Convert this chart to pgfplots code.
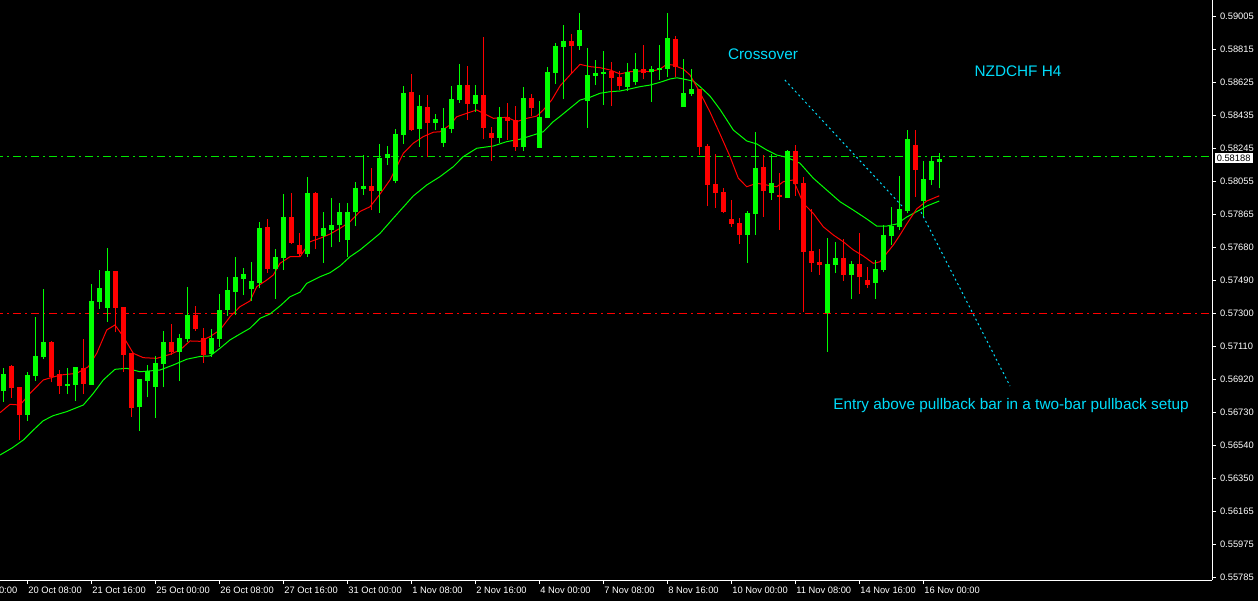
\documentclass[border=0pt]{standalone}
\usepackage{fontspec}
\setmainfont{Liberation Sans}
\usepackage{pgfplots}
\usepackage{pgfplotstable}
\pgfplotsset{compat=1.18}
\definecolor{cgreen}{RGB}{0,255,0}
\definecolor{cred}{RGB}{255,0,0}
\definecolor{cyantxt}{RGB}{0,220,250}
\definecolor{hgreen}{RGB}{0,230,0}

% bullish candles: index, open, high, low, close
\pgfplotstableread{
i o h l c
0 0.56855 0.56987 0.56792 0.56951
3 0.56716 0.56964 0.56683 0.56945
4 0.56941 0.57279 0.56913 0.57055
5 0.57047 0.57440 0.57037 0.57135
8 0.56884 0.56986 0.56836 0.56894
9 0.56888 0.56991 0.56798 0.56991
11 0.56888 0.57468 0.56888 0.57371
12 0.57367 0.57549 0.57325 0.57445
13 0.57332 0.57675 0.57252 0.57543
17 0.56763 0.56922 0.56625 0.56922
18 0.56913 0.57003 0.56817 0.56968
19 0.56878 0.57056 0.56700 0.57014
20 0.57010 0.57198 0.56875 0.57135
22 0.57079 0.57181 0.56913 0.57158
23 0.57152 0.57451 0.57137 0.57290
26 0.57068 0.57210 0.57051 0.57158
27 0.57152 0.57411 0.57108 0.57319
28 0.57319 0.57510 0.57286 0.57434
29 0.57424 0.57623 0.57290 0.57508
30 0.57497 0.57560 0.57405 0.57526
31 0.57440 0.57595 0.57371 0.57485
32 0.57476 0.57824 0.57444 0.57790
34 0.57556 0.57669 0.57384 0.57623
35 0.57619 0.57987 0.57550 0.57853
38 0.57639 0.58083 0.57625 0.57993
40 0.57746 0.57882 0.57589 0.57790
41 0.57780 0.57962 0.57679 0.57807
42 0.57809 0.57935 0.57711 0.57882
43 0.57723 0.57934 0.57625 0.57882
44 0.57880 0.58054 0.57803 0.58020
45 0.58016 0.58209 0.57980 0.58031
47 0.58004 0.58273 0.57878 0.58192
48 0.58194 0.58261 0.58152 0.58215
49 0.58062 0.58357 0.58047 0.58330
50 0.58324 0.58606 0.58273 0.58566
52 0.58359 0.58554 0.58257 0.58491
54 0.58395 0.58445 0.58353 0.58416
55 0.58280 0.58478 0.58257 0.58364
56 0.58359 0.58606 0.58334 0.58531
57 0.58525 0.58732 0.58510 0.58611
59 0.58504 0.58611 0.58458 0.58554
62 0.58309 0.58485 0.58280 0.58428
65 0.58257 0.58600 0.58234 0.58537
67 0.58251 0.58520 0.58251 0.58428
68 0.58424 0.58715 0.58424 0.58686
69 0.58682 0.58855 0.58617 0.58836
70 0.58830 0.58956 0.58529 0.58864
72 0.58837 0.59025 0.58813 0.58927
73 0.58521 0.58826 0.58366 0.58669
74 0.58665 0.58755 0.58611 0.58680
75 0.58675 0.58807 0.58498 0.58686
78 0.58600 0.58738 0.58577 0.58686
79 0.58629 0.58795 0.58611 0.58703
81 0.58686 0.58721 0.58516 0.58703
82 0.58699 0.58841 0.58640 0.58711
83 0.58703 0.59025 0.58657 0.58882
85 0.58487 0.58761 0.58487 0.58566
86 0.58560 0.58703 0.58548 0.58589
93 0.57750 0.57888 0.57589 0.57876
94 0.57872 0.58341 0.57750 0.58135
96 0.57993 0.58215 0.57953 0.58048
98 0.57964 0.58238 0.57964 0.58232
103 0.57303 0.57732 0.57079 0.57585
104 0.57579 0.57711 0.57530 0.57619
106 0.57520 0.57600 0.57382 0.57583
109 0.57474 0.57606 0.57382 0.57554
110 0.57549 0.57807 0.57535 0.57750
111 0.57744 0.57911 0.57692 0.57801
112 0.57797 0.58089 0.57778 0.57899
113 0.57889 0.58353 0.57874 0.58301
115 0.57945 0.58175 0.57855 0.58071
116 0.58066 0.58204 0.58037 0.58175
117 0.58171 0.58223 0.58018 0.58188
}\bull

% bearish candles: index, open, high, low, close
\pgfplotstableread{
i o h l c
1 0.56999 0.57003 0.56815 0.56873
2 0.56877 0.56877 0.56572 0.56716
6 0.57137 0.57141 0.56903 0.56932
7 0.56951 0.56974 0.56836 0.56884
10 0.56987 0.57154 0.56835 0.56894
14 0.57543 0.57543 0.57191 0.57332
15 0.57336 0.57336 0.56964 0.57062
16 0.57070 0.57072 0.56706 0.56758
21 0.57135 0.57238 0.57060 0.57079
24 0.57290 0.57340 0.57200 0.57210
25 0.57158 0.57214 0.57016 0.57060
33 0.57796 0.57842 0.57533 0.57556
36 0.57853 0.57993 0.57698 0.57706
37 0.57692 0.57761 0.57622 0.57642
39 0.57993 0.57998 0.57671 0.57746
46 0.58031 0.58135 0.57893 0.58004
51 0.58571 0.58676 0.58347 0.58353
53 0.58485 0.58554 0.58196 0.58395
58 0.58611 0.58721 0.58412 0.58504
60 0.58554 0.58887 0.58301 0.58366
61 0.58336 0.58372 0.58177 0.58309
63 0.58428 0.58508 0.58296 0.58405
64 0.58410 0.58491 0.58234 0.58257
66 0.58537 0.58560 0.58433 0.58479
71 0.58864 0.58905 0.58679 0.58837
76 0.58692 0.58744 0.58493 0.58653
77 0.58657 0.58692 0.58581 0.58607
80 0.58703 0.58841 0.58646 0.58680
84 0.58876 0.58893 0.58657 0.58717
87 0.58590 0.58590 0.58209 0.58257
88 0.58261 0.58273 0.57916 0.58037
89 0.58043 0.58215 0.57907 0.57993
90 0.57997 0.58020 0.57876 0.57882
91 0.57842 0.57951 0.57796 0.57815
92 0.57819 0.57847 0.57700 0.57750
95 0.58140 0.58209 0.57855 0.58004
97 0.57980 0.58106 0.57780 0.57970
99 0.58232 0.58267 0.57976 0.58044
100 0.58048 0.58083 0.57309 0.57654
101 0.57658 0.57899 0.57539 0.57591
102 0.57595 0.57669 0.57520 0.57579
105 0.57619 0.57729 0.57485 0.57522
107 0.57583 0.57761 0.57411 0.57508
108 0.57491 0.57566 0.57447 0.57463
114 0.58267 0.58353 0.57970 0.58123
}\bear

% fast moving average (red)
\pgfplotstableread{
x y
-0.41 0.56729
0.84 0.56777
2.09 0.56773
3.34 0.56840
5.0 0.56917
7.09 0.56945
9.18 0.56955
10.63 0.56993
11.68 0.57070
12.93 0.57204
13.96 0.57233
15.0 0.57166
16.25 0.57070
17.5 0.57045
19.18 0.57041
20.84 0.57064
22.09 0.57089
23.34 0.57141
24.59 0.57139
25.84 0.57166
27.09 0.57204
28.34 0.57280
29.59 0.57338
30.84 0.57371
31.68 0.57453
32.93 0.57491
33.75 0.57520
34.59 0.57587
35.84 0.57625
37.09 0.57625
38.34 0.57711
39.59 0.57731
40.84 0.57755
42.09 0.57788
43.34 0.57826
44.59 0.57885
45.84 0.57912
47.09 0.57985
48.34 0.58066
49.18 0.58142
50.0 0.58219
51.25 0.58277
52.5 0.58315
53.75 0.58340
54.59 0.58343
55.84 0.58382
56.68 0.58429
57.93 0.58449
59.18 0.58468
60.43 0.58439
61.25 0.58420
62.93 0.58426
64.18 0.58401
65.43 0.58420
66.68 0.58433
67.5 0.58468
68.55 0.58525
69.59 0.58606
70.84 0.58669
72.09 0.58730
73.34 0.58717
74.59 0.58711
75.84 0.58698
77.09 0.58675
78.34 0.58688
79.59 0.58692
80.84 0.58688
82.09 0.58703
82.93 0.58730
83.75 0.58726
85.0 0.58703
85.84 0.58669
87.09 0.58568
88.34 0.58456
89.59 0.58330
90.84 0.58200
91.88 0.58076
92.93 0.58027
94.18 0.58047
95.43 0.58037
96.68 0.58027
97.5 0.58056
98.75 0.58066
100.0 0.57932
101.25 0.57874
102.5 0.57797
103.75 0.57750
105.0 0.57711
106.25 0.57664
107.5 0.57629
108.75 0.57587
109.59 0.57596
110.43 0.57645
111.25 0.57692
112.09 0.57750
112.93 0.57813
114.18 0.57900
115.43 0.57945
117.0 0.57975
}\mared

% slow moving average (green)
\pgfplotstableread{
x y
-0.41 0.56486
1.09 0.56526
2.5 0.56572
3.75 0.56629
5.0 0.56683
6.25 0.56712
7.93 0.56735
10.0 0.56773
11.25 0.56840
12.5 0.56917
13.96 0.56978
15.43 0.56984
17.09 0.56964
19.59 0.56974
21.25 0.57003
22.93 0.57036
24.59 0.57052
25.84 0.57055
27.09 0.57099
28.34 0.57147
29.59 0.57181
30.84 0.57214
32.09 0.57271
33.34 0.57296
34.59 0.57342
35.84 0.57395
37.09 0.57421
37.93 0.57472
39.59 0.57510
40.84 0.57533
42.09 0.57572
43.34 0.57625
44.59 0.57664
45.84 0.57711
47.09 0.57759
48.75 0.57846
51.25 0.57974
52.93 0.58037
54.59 0.58085
56.25 0.58142
57.5 0.58200
59.18 0.58248
61.25 0.58261
62.93 0.58286
64.59 0.58300
66.25 0.58324
67.5 0.58343
68.75 0.58401
69.59 0.58431
70.84 0.58478
72.09 0.58525
73.34 0.58541
74.59 0.58564
75.84 0.58573
77.09 0.58577
78.34 0.58589
79.59 0.58602
80.84 0.58611
82.09 0.58627
83.34 0.58646
84.18 0.58653
85.0 0.58646
86.25 0.58634
87.09 0.58602
88.34 0.58548
89.59 0.58471
91.25 0.58353
92.93 0.58290
94.18 0.58273
95.43 0.58238
96.68 0.58209
97.93 0.58196
99.59 0.58162
101.25 0.58076
102.93 0.58008
104.59 0.57941
106.25 0.57893
107.93 0.57842
109.18 0.57801
110.43 0.57801
111.68 0.57813
112.93 0.57853
114.18 0.57884
115.43 0.57916
117.0 0.57945
}\magreen

\begin{document}
\begin{tikzpicture}[x=0.75pt,y=0.75pt]
\fill[black] (0,0) rectangle (1258,601);
\useasboundingbox (0,0) rectangle (1258,601);
\begin{axis}[
  at={(0pt,15.75pt)}, anchor=south west,
  scale only axis, width=909pt, height=435pt,
  xmin=-0.4125, xmax=151.09, ymin=0.557677, ymax=0.590998,
  axis x line*=bottom, axis y line*=right,
  axis line style={white, line width=0.75pt},
  tick style={white, line width=0.75pt},
  tick align=outside, major tick length=3pt,
  scaled y ticks=false, scaled x ticks=false,
  xtick={3,11,19,27,35,43,51,59,67,75,83,91,99,107,115},
  xticklabels={20 Oct 08:00,21 Oct 16:00,25 Oct 00:00,26 Oct 08:00,27 Oct 16:00,31 Oct 00:00,1 Nov 08:00,2 Nov 16:00,4 Nov 00:00,7 Nov 08:00,8 Nov 16:00,10 Nov 00:00,11 Nov 08:00,14 Nov 16:00,16 Nov 00:00},
  ytick={0.557821,0.559716,0.561612,0.563508,0.565404,0.567300,0.569196,0.571092,0.572987,0.574883,0.576779,0.578675,0.580571,0.582467,0.584362,0.586258,0.588154,0.590050},
  yticklabels={0.55785,0.55975,0.56165,0.56350,0.56540,0.56730,0.56920,0.57110,0.57300,0.57490,0.57680,0.57865,0.58055,0.58245,0.58435,0.58625,0.58815,0.59005},
  xticklabel style={anchor=west, text=white, font=\fontsize{7}{8}\selectfont, inner xsep=0pt, xshift=0.6pt, yshift=-4.5pt},
  yticklabel style={anchor=west, text=white, font=\fontsize{7}{8}\selectfont, xshift=-0.5pt},
]
% horizontal levels
\addplot[forget plot, hgreen, line width=0.75pt, dash pattern=on 6pt off 3pt on 1.5pt off 3pt] coordinates {(-1,0.58201) (152,0.58201)};
\addplot[forget plot, cred, line width=0.75pt, dash pattern=on 6pt off 3pt on 1.5pt off 3pt] coordinates {(-1,0.57299) (152,0.57299)};
% moving averages
\addplot[forget plot, cgreen, line width=0.75pt, mark=none] table[x=x,y=y] {\magreen};
\addplot[forget plot, cred, line width=0.75pt, mark=none] table[x=x,y=y] {\mared};
% wicks
\addplot[forget plot, draw=none, mark=none,
  error bars/.cd, y dir=plus, y explicit, error mark=none,
  error bar style={draw=cgreen, line width=0.75pt}]
  table[x=i, y=l, y error plus expr=\thisrow{h}-\thisrow{l}] {\bull};
\addplot[forget plot, draw=none, mark=none,
  error bars/.cd, y dir=plus, y explicit, error mark=none,
  error bar style={draw=cred, line width=0.75pt}]
  table[x=i, y=l, y error plus expr=\thisrow{h}-\thisrow{l}] {\bear};
% bodies
\addplot[forget plot, draw=none, mark=none,
  error bars/.cd, y dir=plus, y explicit, error mark=none,
  error bar style={draw=cgreen, line width=3.75pt}]
  table[x=i, y=o, y error plus expr={max(\thisrow{c}-\thisrow{o},0.00005)}] {\bull};
\addplot[forget plot, draw=none, mark=none,
  error bars/.cd, y dir=plus, y explicit, error mark=none,
  error bar style={draw=cred, line width=3.75pt}]
  table[x=i, y=c, y error plus expr={max(\thisrow{o}-\thisrow{c},0.00005)}] {\bear};
% annotation lines
\addplot[forget plot, cyantxt, line width=0.75pt, dash pattern=on 1.5pt off 2.25pt] coordinates {(97.7,0.58640) (112.34,0.57916)};
\addplot[forget plot, cyantxt, line width=0.75pt, dash pattern=on 1.5pt off 2.25pt] coordinates {(114.71,0.57882) (125.84,0.56882)};
\end{axis}
% annotations (picture pixels)
\node[text=cyantxt, font=\fontsize{11.5}{13}\selectfont, inner sep=0pt] at (763,547) {Crossover};
\node[text=cyantxt, font=\fontsize{11.5}{13}\selectfont, inner sep=0pt] at (1018,530) {NZDCHF H4};
\node[text=cyantxt, font=\fontsize{11.5}{13}\selectfont, inner sep=0pt] at (1011,195) {Entry above pullback bar in a two-bar pullback setup};
\node[fill=white, text=black, font=\fontsize{7}{8}\selectfont, anchor=west, inner xsep=1.5pt, inner ysep=0pt, minimum height=7.5pt] at (1214.5,442.7) {0.58188};
\node[text=white, font=\fontsize{7}{8}\selectfont, anchor=west, inner sep=0pt] at (-36.5,11) {19 Oct 00:00};
\end{tikzpicture}
\end{document}
